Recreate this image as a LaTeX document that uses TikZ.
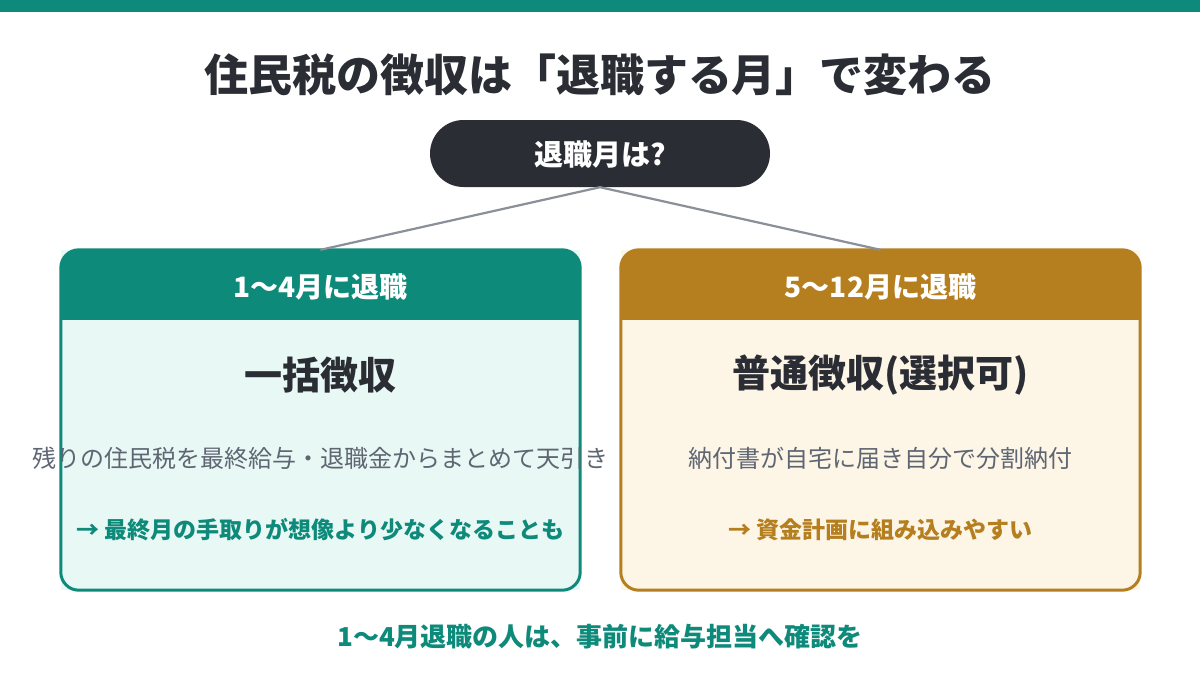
\documentclass[tikz,border=0pt]{standalone}
\usepackage{fontspec}
\setmainfont{Noto Sans CJK JP}
\usetikzlibrary{calc}
\definecolor{teal}{HTML}{0E8A7A}
\definecolor{amber}{HTML}{B57F1F}
\definecolor{dark}{HTML}{2B2D35}
\definecolor{graytxt}{HTML}{5F6673}
\definecolor{lightteal}{HTML}{E8F8F5}
\definecolor{lightamber}{HTML}{FDF5E6}
\definecolor{linegray}{HTML}{8A8F9A}
\tikzset{
  x=1pt, y=-1pt,
  cardbox/.style={rectangle, minimum width=519pt, minimum height=340pt, inner sep=0pt},
  headtxt/.style={text=white, font=\fontsize{28}{32}\selectfont\bfseries},
  bigtxt/.style={text=dark, font=\fontsize{38}{44}\selectfont\bfseries},
  bodytxt/.style={text=graytxt, font=\fontsize{24}{28}\selectfont},
  notetxt/.style={font=\fontsize{23}{27}\selectfont\bfseries},
  conn/.style={draw=linegray, line width=2.2pt}
}
\begin{document}
\begin{tikzpicture}
\useasboundingbox (0,0) rectangle (1200,675);
\fill[white] (0,0) rectangle (1200,675);
\fill[teal] (0,0) rectangle (1200,12);
\node[text=dark, font=\fontsize{44}{50}\selectfont\bfseries] (title) at (600,75) {住民税の徴収は「退職する月」で変わる};
\node[fill=dark, rounded corners=33.5pt, minimum width=340pt, minimum height=67pt, inner sep=0pt] (q) at (600,153.5) {};
\node[headtxt, font=\fontsize{29}{33}\selectfont\bfseries] (qt) at (600,155) {退職月は?};
% boxes
\node[cardbox, fill=lightteal] (lb) at (320.5,420) {};
\node[cardbox, fill=lightamber] (rb) at (880.5,420) {};
\begin{scope}
\clip[rounded corners=18pt] (lb.north west) rectangle (lb.south east);
\fill[teal] (lb.north west) rectangle ($(lb.north east)+(0,70)$);
\end{scope}
\begin{scope}
\clip[rounded corners=18pt] (rb.north west) rectangle (rb.south east);
\fill[amber] (rb.north west) rectangle ($(rb.north east)+(0,70)$);
\end{scope}
\draw[teal, line width=3pt, rounded corners=18pt] (lb.north west) rectangle (lb.south east);
\draw[amber, line width=3pt, rounded corners=18pt] (rb.north west) rectangle (rb.south east);
\draw[conn] (q.south) -- (lb.north);
\draw[conn] (q.south) -- (rb.north);
% left content
\node[headtxt] (lh) at (320.5,287) {1〜4月に退職};
\node[bigtxt] (lt) at (320.5,375) {一括徴収};
\node[bodytxt] (lbody) at (320.5,458) {残りの住民税を最終給与・退職金からまとめて天引き};
\node[notetxt, text=teal] (ln) at (320.5,530) {→ 最終月の手取りが想像より少なくなることも};
% right content
\node[headtxt] (rh) at (880.5,287) {5〜12月に退職};
\node[bigtxt] (rt) at (880.5,375) {普通徴収(選択可)};
\node[bodytxt] (rbody) at (880.5,458) {納付書が自宅に届き自分で分割納付};
\node[notetxt, text=amber] (rn) at (880.5,530) {→ 資金計画に組み込みやすい};
% bottom
\node[text=teal, font=\fontsize{26}{30}\selectfont\bfseries] (foot) at (600,637) {1〜4月退職の人は、事前に給与担当へ確認を};
\end{tikzpicture}
\end{document}
